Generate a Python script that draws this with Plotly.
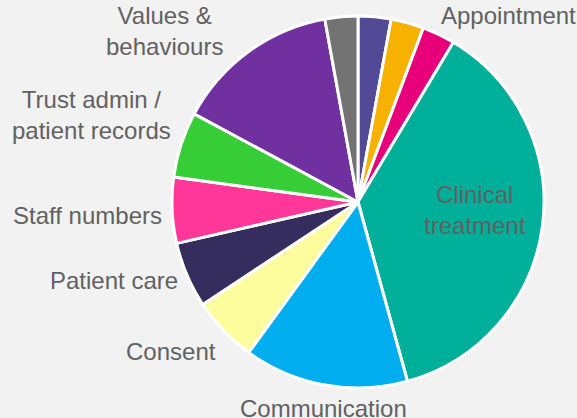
import math
import plotly.graph_objects as go

labels = ['Access', 'Admission / discharge', 'Appointment', 'Clinical treatment',
          'Communication', 'Consent', 'Patient care', 'Staff numbers',
          'Trust admin / patient records', 'Values & behaviours', 'Waiting times']
counts = [1, 1, 1, 13, 5, 2, 2, 2, 2, 5, 1]
# text shown next to each slice ('' = label lies outside the visible crop)
shown = ['', '', 'Appointment', 'Clinical<br>treatment', 'Communication', 'Consent',
         'Patient care', 'Staff numbers', 'Trust admin /<br>patient records',
         'Values &<br>behaviours', '']
inside = [False, False, False, True, False, False, False, False, False, False, False]
colors = ['#524A97', '#F7B100', '#E8007A', '#00AF9A', '#00AEEF', '#FDFD9D',
          '#352D5E', '#FF3798', '#37CD37', '#7030A0', '#737373']

W, H = 577, 418
cx, cy, r = 358, 202, 186
font = dict(family='Liberation Sans, Arial', size=24, color='#616161')
# small pixel nudges where Excel moved labels to avoid collisions
nudge = {'Values & behaviours': (-19, 17), 'Patient care': (0, -13),
         'Clinical treatment': (-3, -8), 'Appointment': (-3, 4),
         'Staff numbers': (0, 5), 'Trust admin / patient records': (0, 4)}

fig = go.Figure()
fig.add_trace(go.Pie(
    labels=labels, values=counts, textinfo='none',
    sort=False, direction='clockwise', rotation=0,
    marker=dict(colors=colors, line=dict(color='white', width=3)),
    hoverinfo='label+value+percent',
    domain=dict(x=[(cx - r) / W, (cx + r) / W], y=[1 - (cy + r) / H, 1 - (cy - r) / H]),
    showlegend=False,
))

# data labels placed like Excel: anchored just outside the slice's mid-angle
total = sum(counts)
cum = 0
for lab, val, txt, ins in zip(labels, counts, shown, inside):
    mid = (cum + val / 2) / total * 2 * math.pi
    cum += val
    if not txt:
        continue
    ux, uy = math.sin(mid), -math.cos(mid)
    if ins:
        d = 0.65 * r
        xa, ya = 'center', 'middle'
    else:
        d = r + 8
        xa = 'center' if abs(ux) < 0.26 else ('left' if ux > 0 else 'right')
        ya = 'middle' if abs(uy) < 0.26 else ('top' if uy > 0 else 'bottom')
    dx, dy = nudge.get(lab, (0, 0))
    fig.add_annotation(
        x=(cx + d * ux + dx) / W, y=1 - (cy + d * uy + dy) / H, xref='paper', yref='paper',
        text=txt, showarrow=False, xanchor=xa, yanchor=ya, align='center', font=font,
    )

fig.update_layout(
    width=W, height=H,
    margin=dict(l=0, r=0, t=0, b=0),
    paper_bgcolor='#F2F2F2', plot_bgcolor='#F2F2F2',
)
fig.write_html('out.html', config={'displayModeBar': False},
               post_script="document.body.style.margin='0';"
                           "document.body.style.background='#F2F2F2';")
